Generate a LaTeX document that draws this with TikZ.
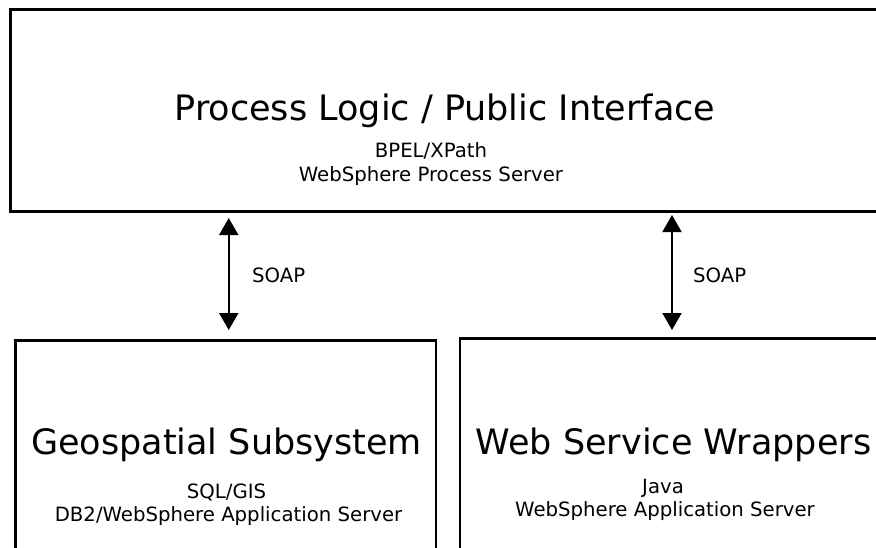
\documentclass[tikz,border=0pt]{standalone}
\usepackage{fontspec}
\setmainfont{DejaVu Sans}
\usetikzlibrary{arrows.meta}

\tikzset{
  box/.style={draw, line width=2.5pt, inner sep=0pt, outer sep=0pt, anchor=north west},
  title/.style={font=\fontsize{35}{42}\selectfont, inner sep=0pt, anchor=base},
  detail/.style={font=\fontsize{19.7}{24}\selectfont, inner sep=0pt, anchor=base},
  link/.style={{Triangle[length=17pt,width=19pt]}-{Triangle[length=17pt,width=19pt]}, line width=2pt},
}

\begin{document}
\begin{tikzpicture}[x=1pt,y=-1pt]
\useasboundingbox (0,0) rectangle (876,547);
\clip (0,0) rectangle (876,547);
% the three tiers
\node[box, line width=3pt, minimum width=880pt, minimum height=201.5pt] (logic) at (10,9.5) {};
\node[box, minimum width=420.5pt, minimum height=240pt] (geo) at (15.5,340.5) {};
\node[box, minimum width=424pt, minimum height=240pt] (wrap) at (460,338.5) {};
\node[title] (logictitle) at (445,120) {Process Logic / Public Interface};
\node[detail] (logiclang) at (431,157) {BPEL/XPath};
\node[detail] (logicserver) at (431,181) {WebSphere Process Server};
\node[title] (geotitle) at (226.5,454) {Geospatial Subsystem};
\node[detail] (geolang) at (226.5,498) {SQL/GIS};
\node[detail] (geoserver) at (228.5,521) {DB2/WebSphere Application Server};
\node[title] (wraptitle) at (673.5,454) {Web Service Wrappers};
\node[detail] (wraplang) at (663,493) {Java};
\node[detail] (wrapserver) at (665,516) {WebSphere Application Server};
% calls between the tiers
\draw[link, shorten <=7pt, shorten >=10.5pt] ([xshift=3pt]geo.north |- logic.south) -- ([xshift=3pt]geo.north);
\draw[link, shorten <=4pt, shorten >=8.5pt] (wrap.north |- logic.south) -- (wrap.north);
\node[detail, anchor=west] (soapgeo) at (252,275) {SOAP};
\node[detail, anchor=west] (soapwrap) at (693,275) {SOAP};
\end{tikzpicture}
\end{document}
